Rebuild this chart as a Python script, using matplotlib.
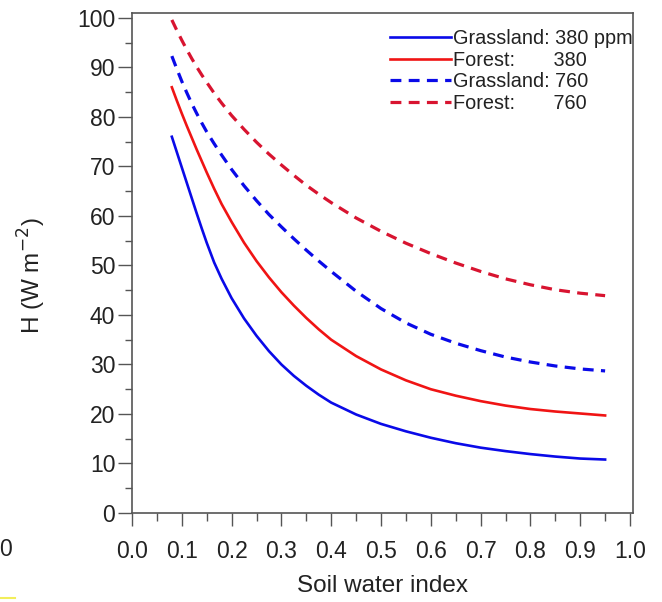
import matplotlib
matplotlib.use("Agg")
import matplotlib.pyplot as plt
from matplotlib.lines import Line2D
from matplotlib.ticker import MultipleLocator

plt.rcParams['font.family'] = ['Liberation Sans', 'DejaVu Sans']

# Data
swi = [0.08, 0.09, 0.10, 0.11, 0.12, 0.13, 0.14, 0.15, 0.165, 0.18, 0.20, 0.225, 0.25, 0.275,
       0.30, 0.325, 0.35, 0.375, 0.40, 0.45, 0.50, 0.55, 0.60, 0.65, 0.70, 0.75, 0.80, 0.85,
       0.90, 0.95]
grass_380 = [76.0, 72.9, 69.8, 66.7, 63.6, 60.5, 57.5, 54.6, 50.6, 47.3, 43.4, 39.3, 35.8, 32.7,
             30.0, 27.7, 25.7, 23.9, 22.3, 19.9, 18.0, 16.5, 15.2, 14.1, 13.2, 12.5, 11.9, 11.4,
             11.0, 10.8]
forest_380 = [86.0, 83.3, 80.7, 78.2, 75.8, 73.4, 71.1, 68.8, 65.5, 62.4, 58.8, 54.6, 50.9, 47.6,
              44.6, 41.9, 39.4, 37.1, 35.0, 31.7, 29.0, 26.8, 25.0, 23.7, 22.6, 21.7, 21.0, 20.5,
              20.1, 19.7]
grass_760 = [92.3, 89.7, 87.2, 84.9, 82.7, 80.7, 78.8, 77.0, 74.6, 72.3, 69.4, 66.1, 63.1, 60.3,
             57.8, 55.4, 53.1, 50.9, 48.8, 44.8, 41.3, 38.4, 36.1, 34.3, 32.8, 31.5, 30.5, 29.7,
             29.1, 28.7]
forest_760 = [99.6, 97.5, 95.5, 93.6, 91.8, 90.1, 88.5, 87.0, 84.8, 82.8, 80.3, 77.5, 74.9, 72.5,
              70.3, 68.2, 66.2, 64.4, 62.7, 59.6, 56.9, 54.5, 52.4, 50.5, 48.8, 47.3, 46.1, 45.1,
              44.4, 43.9]

labels = ["Grassland: 380 ppm", "Forest:       380", "Grassland: 760", "Forest:       760"]
x_ticks = [0.0, 0.1, 0.2, 0.3, 0.4, 0.5, 0.6, 0.7, 0.8, 0.9, 1.0]
y_ticks = [0, 10, 20, 30, 40, 50, 60, 70, 80, 90, 100]

W, H = 662, 602
fig = plt.figure(figsize=(W / 100, H / 100), dpi=100)
ax = fig.add_axes([132 / W, 1 - 513 / H, (633 - 132) / W, (513 - 13) / H])

blue = '#0a0ae8'
red = '#f01414'
red_d = '#d81430'
ax.plot(swi, grass_380, color=blue, lw=1.9, label=labels[0], solid_joinstyle='round')
ax.plot(swi, forest_380, color=red, lw=1.9, label=labels[1], solid_joinstyle='round')
ax.plot(swi, grass_760, color=blue, lw=2.3, dashes=(3.4, 2.3), label=labels[2])
ax.plot(swi, forest_760, color=red_d, lw=2.3, dashes=(3.4, 2.3), label=labels[3])

ax.set_xlim(0, 1.006)
ax.set_ylim(0, 101)
ax.set_xticks(x_ticks)
ax.set_xticklabels([f"{v:.1f}" for v in x_ticks])
ax.set_yticks(y_ticks)
ax.xaxis.set_minor_locator(MultipleLocator(0.05))
ax.yaxis.set_minor_locator(MultipleLocator(5))

frame_col = '#555555'
for s in ax.spines.values():
    s.set_color(frame_col)
    s.set_linewidth(1.2)

ax.tick_params(axis='y', which='major', direction='out', length=10, width=1.0, color=frame_col,
               labelsize=16.5, pad=2, labelcolor='#222222')
ax.tick_params(axis='y', which='minor', direction='out', length=5, width=1.0, color=frame_col)
ax.tick_params(axis='x', which='major', direction='out', length=9.5, width=1.0, color=frame_col,
               labelsize=16.5, pad=10, labelcolor='#222222')
ax.tick_params(axis='x', which='minor', direction='out', length=5.5, width=1.0, color=frame_col)

ax.set_xlabel("Soil water index", fontsize=17.5, color='#222222')
ax.xaxis.set_label_coords(0.5, -0.125)
ax.set_ylabel("H (W m$^{-2}$)", fontsize=17.5, color='#222222')
ax.yaxis.set_label_coords(-0.168, 0.475)

leg = ax.legend(loc='upper right', bbox_to_anchor=(1.0, 0.968), frameon=False, fontsize=14.3,
                handlelength=3.1, handletextpad=0.1, labelspacing=0.13, borderpad=0,
                borderaxespad=0)
for t in leg.get_texts():
    t.set_color('#222222')

# remnants of the reference image edges (cropped neighbour panel)
fig.text(0.008, 1 - 549 / H, '0', ha='center', va='center', fontsize=16.5, color='#222222')
fig.add_artist(Line2D([0, 15 / W], [1 - 598 / H, 1 - 598 / H], color='#f2ee5a', lw=1.5,
                      transform=fig.transFigure))

fig.savefig('out.png', dpi=100)
